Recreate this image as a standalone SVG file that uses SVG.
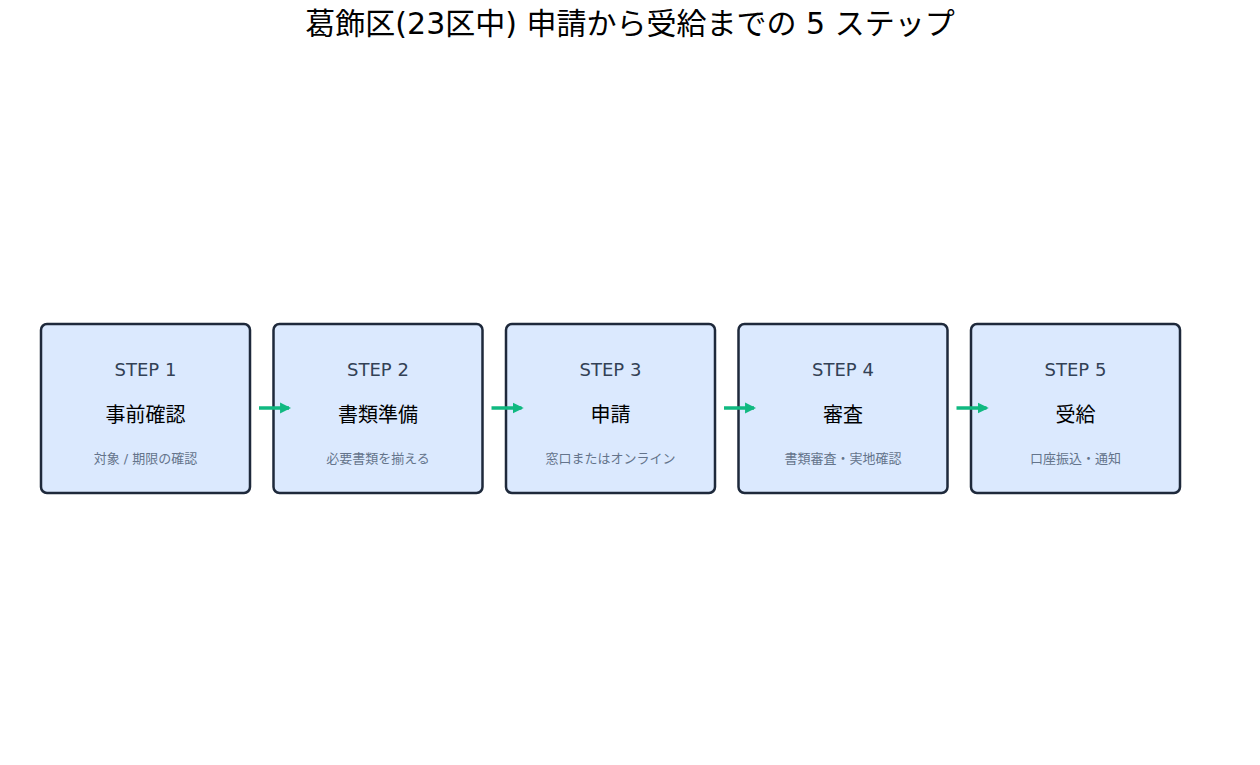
<svg xmlns="http://www.w3.org/2000/svg" width="1260" height="765" viewBox="0 0 1260 765">
<style>
.box{fill:#dbe9fe;stroke:#1e293b;stroke-width:2.5}
.t{font-family:"DejaVu Sans","Noto Sans CJK JP",sans-serif;text-anchor:middle}
.s{font-size:18px;fill:#334155}
.m{font-size:20px;fill:#000}
.d{font-size:13px;fill:#64748b}
.c{stroke:#10b981;stroke-width:3.5;fill:none;marker-end:url(#a)}
</style>
<defs><marker id="a" viewBox="0 0 10 10" refX="8" refY="5" markerWidth="3.2" markerHeight="3.2" orient="auto"><path d="M0,0L10,5L0,10z" fill="#10b981"/></marker></defs>
<rect width="1260" height="765" fill="#fff"/>
<text x="630" y="34" class="t" font-size="30" fill="#000">葛飾区(23区中) 申請から受給までの 5 ステップ</text>
<g id="n1"><rect class="box" x="41" y="324" width="209" height="169" rx="6"/><text class="t s" x="145.5" y="376">STEP 1</text><text class="t m" x="145.5" y="422">事前確認</text><text class="t d" x="145.5" y="463">対象 / 期限の確認</text></g>
<g id="n2"><rect class="box" x="273.5" y="324" width="209" height="169" rx="6"/><text class="t s" x="378" y="376">STEP 2</text><text class="t m" x="378" y="422">書類準備</text><text class="t d" x="378" y="463">必要書類を揃える</text></g>
<g id="n3"><rect class="box" x="506" y="324" width="209" height="169" rx="6"/><text class="t s" x="610.5" y="376">STEP 3</text><text class="t m" x="610.5" y="422">申請</text><text class="t d" x="610.5" y="463">窓口またはオンライン</text></g>
<g id="n4"><rect class="box" x="738.5" y="324" width="209" height="169" rx="6"/><text class="t s" x="843" y="376">STEP 4</text><text class="t m" x="843" y="422">審査</text><text class="t d" x="843" y="463">書類審査・実地確認</text></g>
<g id="n5"><rect class="box" x="971" y="324" width="209" height="169" rx="6"/><text class="t s" x="1075.5" y="376">STEP 5</text><text class="t m" x="1075.5" y="422">受給</text><text class="t d" x="1075.5" y="463">口座振込・通知</text></g>
<g id="connectors">
<path class="c" d="M259,408H289"/><path class="c" d="M491.5,408H521.5"/><path class="c" d="M724,408H754"/><path class="c" d="M956.5,408H986.5"/>
</g>
</svg>
